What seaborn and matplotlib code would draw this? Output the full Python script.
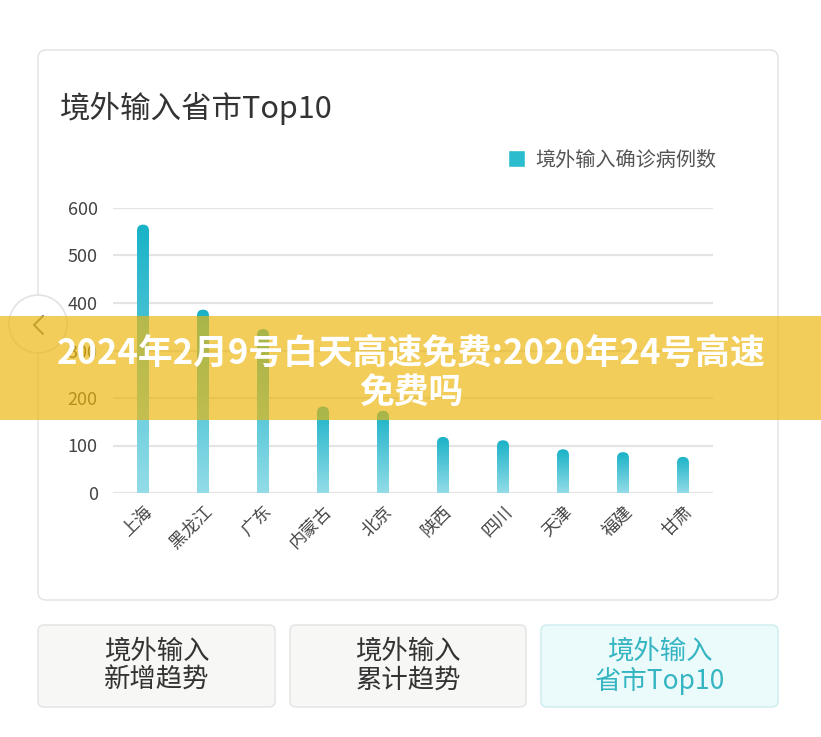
import numpy as np
import matplotlib
matplotlib.use("Agg")
import matplotlib.pyplot as plt
import seaborn as sns
from matplotlib.patches import FancyBboxPatch, Rectangle, Ellipse, Patch
from matplotlib.lines import Line2D
from matplotlib.colors import LinearSegmentedColormap

# Data
provinces = ["上海", "黑龙江", "广东", "内蒙古", "北京", "陕西", "四川", "天津", "福建", "甘肃"]
cases = [565, 386, 345, 182, 173, 118, 111, 92, 86, 76]
y_ticks = [0, 100, 200, 300, 400, 500, 600]

title = "境外输入省市Top10"
legend_label = "境外输入确诊病例数"
banner_text = "2024年2月9号白天高速免费:2020年24号高速\n免费吗"
button_texts = ["境外输入\n新增趋势", "境外输入\n累计趋势", "境外输入\n省市Top10"]

W, H = 821, 737
sns.set_theme(style="white")
plt.rcParams["font.family"] = ["Noto Sans CJK SC", "DejaVu Sans"]

fig = plt.figure(figsize=(W / 100, H / 100), dpi=100)
fig.patch.set_facecolor("white")


# pixel -> figure fraction helpers
def fx(x):
    return x / W


def fy(y):
    return 1 - y / H


def rbox(x0, y0, x1, y1, r, **kw):
    return FancyBboxPatch(
        (fx(x0), fy(y1)), (x1 - x0) / W, (y1 - y0) / H,
        boxstyle=f"round,pad=0,rounding_size={r / W}",
        mutation_aspect=W / H, transform=fig.transFigure, **kw)


# Card behind the chart
fig.add_artist(rbox(38, 50, 778, 600, 8, facecolor="white", edgecolor="#e6e6e6", lw=1.2, zorder=-1))
fig.text(fx(60), fy(108), title, fontsize=22, color="#333333", ha="left", va="center")

# Chart axes
ax = fig.add_axes([fx(113), fy(493), 600 / W, 285 / H])
ax.set_facecolor("none")
sns.barplot(x=provinces, y=cases, width=0.2, color="#22b6ca", ax=ax)
ax.set_xlim(-0.5, 9.5)
ax.set_ylim(0, 600)
ax.set_autoscale_on(False)

# gradient + rounded top for each bar
cmap = LinearSegmentedColormap.from_list("bar", ["#93dce8", "#19b2c7"])
grad = np.linspace(0, 1, 256).reshape(-1, 1)
m_aspect = (600 / 10) / (285 / 600)
for p in list(ax.patches):
    x0, w, h = p.get_x(), p.get_width(), p.get_height()
    p.set_visible(False)
    r_y = w / 2 * m_aspect
    clip = FancyBboxPatch((x0, -r_y), w, h + r_y,
                          boxstyle=f"round,pad=0,rounding_size={w / 2}",
                          mutation_aspect=m_aspect, facecolor="none", edgecolor="none",
                          transform=ax.transData)
    ax.add_patch(clip)
    im = ax.imshow(grad, extent=[x0, x0 + w, 0, h], origin="lower", aspect="auto",
                   cmap=cmap, zorder=2)
    im.set_clip_path(clip)

ax.set_xlim(-0.5, 9.5)
ax.set_ylim(0, 600)
ax.set_yticks(y_ticks)
ax.grid(axis="y", color="#e4e4e4", lw=1.6)
ax.set_axisbelow(True)
sns.despine(ax=ax, left=True, bottom=True)
ax.tick_params(axis="y", length=0, pad=11, labelsize=13, labelcolor="#444444")
ax.tick_params(axis="x", length=0, pad=7, labelsize=12.5, labelcolor="#444444")
ax.set_xticks(range(len(provinces)))
ax.set_xticklabels(provinces, rotation=45, ha="right", rotation_mode="anchor")
ax.set_xlabel("")
ax.set_ylabel("")

ax.legend(handles=[Patch(facecolor="#2bbccd", label=legend_label)],
          loc="center right", bbox_to_anchor=(fx(716), fy(160)), bbox_transform=fig.transFigure,
          frameon=False, fontsize=14.5, handlelength=0.85, handleheight=0.85,
          handletextpad=0.5, borderpad=0, borderaxespad=0, labelcolor="#555555")

# Left nav circle
fig.add_artist(Ellipse((fx(38), fy(324)), 58 / W, 58 / H, transform=fig.transFigure,
                       facecolor="white", edgecolor="#e2e2e2", lw=1.2, zorder=8))
fig.add_artist(Line2D([fx(43), fx(34), fx(43)], [fy(316), fy(325), fy(334)],
                      transform=fig.transFigure, color="#777777", lw=1.5, zorder=9))

# Yellow banner overlay
fig.add_artist(Rectangle((0, fy(420)), 1, 104 / H, transform=fig.transFigure,
                         facecolor="#ecb60c", edgecolor="none", alpha=0.68, zorder=10))
fig.text(fx(411), fy(373), banner_text, fontsize=25, fontweight="bold", color="white",
         ha="center", va="center", linespacing=1.15, zorder=11)

# Bottom buttons
boxes = [(38, 275), (290, 526), (541, 778)]
for i, (x0, x1) in enumerate(boxes):
    active = i == 2
    fig.add_artist(rbox(x0, 625, x1, 707, 6,
                        facecolor="#ebfafb" if active else "#f7f7f5",
                        edgecolor="#d3eef0" if active else "#e6e6e6", lw=1.2))
    fig.text(fx((x0 + x1) / 2), fy(666), button_texts[i], fontsize=19,
             color="#35b5c2" if active else "#333333", ha="center", va="center",
             linespacing=1.1)

fig.savefig("out.png", dpi=100)
